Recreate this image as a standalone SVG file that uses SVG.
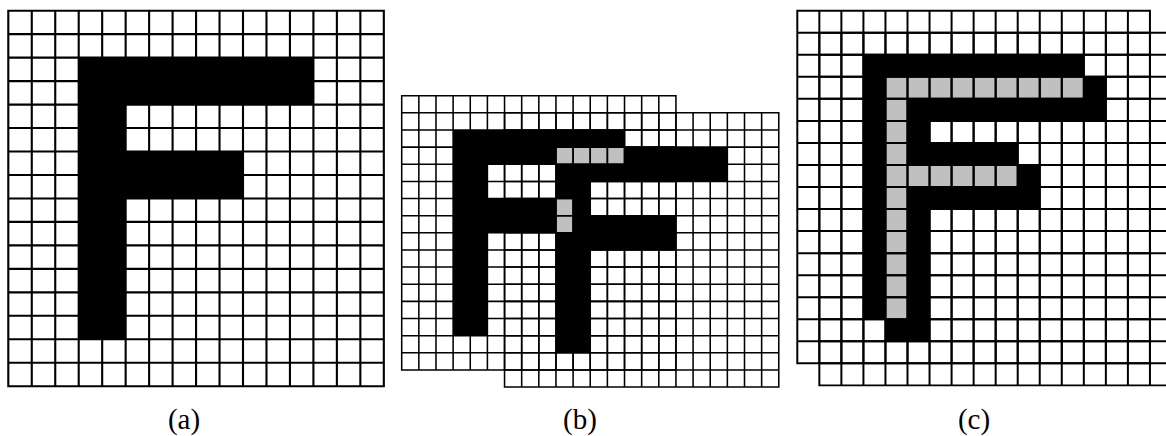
<svg xmlns="http://www.w3.org/2000/svg" xmlns:xlink="http://www.w3.org/1999/xlink" width="1166" height="436" viewBox="0 0 1166 436">
  <style>
    .bg{fill:#fff}
    .blk{fill:#000}
    .gry{fill:#c0c0c0}
    .grid{fill:none;stroke:#000;stroke-width:0.09;stroke-linecap:square}
    .lbl{font-family:"Liberation Serif","DejaVu Serif",serif;font-size:29px;fill:#000;text-anchor:middle}
  </style>
  <defs>
    <path id="F" d="M3 2H13V4H5V6H10V8H5V14H3Z"/>
    <path id="grid16" d="M0 0H16M0 1H16M0 2H16M0 3H16M0 4H16M0 5H16M0 6H16M0 7H16M0 8H16M0 9H16M0 10H16M0 11H16M0 12H16M0 13H16M0 14H16M0 15H16M0 16H16M0 0V16M1 0V16M2 0V16M3 0V16M4 0V16M5 0V16M6 0V16M7 0V16M8 0V16M9 0V16M10 0V16M11 0V16M12 0V16M13 0V16M14 0V16M15 0V16M16 0V16"/>
  </defs>
  <rect width="1166" height="436" fill="#fff"/>

  <g id="panel-a" transform="translate(8.3,10.7) scale(23.47)">
    <rect class="bg" x="0" y="0" width="16" height="16"/>
    <use href="#F" class="blk"/>
    <use href="#grid16" class="grid"/>
  </g>

  <g id="panel-b" transform="translate(401.7,95.7) scale(17.14)">
    <rect class="bg" x="0" y="0" width="16" height="16"/>
    <rect class="bg" x="6" y="1" width="16" height="16"/>
    <use href="#F" class="blk"/>
    <use href="#F" class="blk" transform="translate(6,1)"/>
    <rect class="gry" x="9" y="3" width="4" height="1"/>
    <rect class="gry" x="9" y="6" width="1" height="2"/>
    <use href="#grid16" class="grid"/>
    <use href="#grid16" class="grid" transform="translate(6,1)"/>
  </g>

  <g id="panel-c" transform="translate(797.3,10.7) scale(22.04)">
    <rect class="bg" x="0" y="0" width="16" height="16"/>
    <rect class="bg" x="1" y="1" width="16" height="16"/>
    <use href="#F" class="blk"/>
    <use href="#F" class="blk" transform="translate(1,1)"/>
    <rect class="gry" x="4" y="3" width="9" height="1"/>
    <rect class="gry" x="4" y="4" width="1" height="10"/>
    <rect class="gry" x="5" y="7" width="5" height="1"/>
    <use href="#grid16" class="grid"/>
    <use href="#grid16" class="grid" transform="translate(1,1)"/>
  </g>

  <g id="labels">
    <text class="lbl" x="184" y="429">(a)</text>
    <text class="lbl" x="580" y="429">(b)</text>
    <text class="lbl" x="974" y="429">(c)</text>
  </g>
</svg>
